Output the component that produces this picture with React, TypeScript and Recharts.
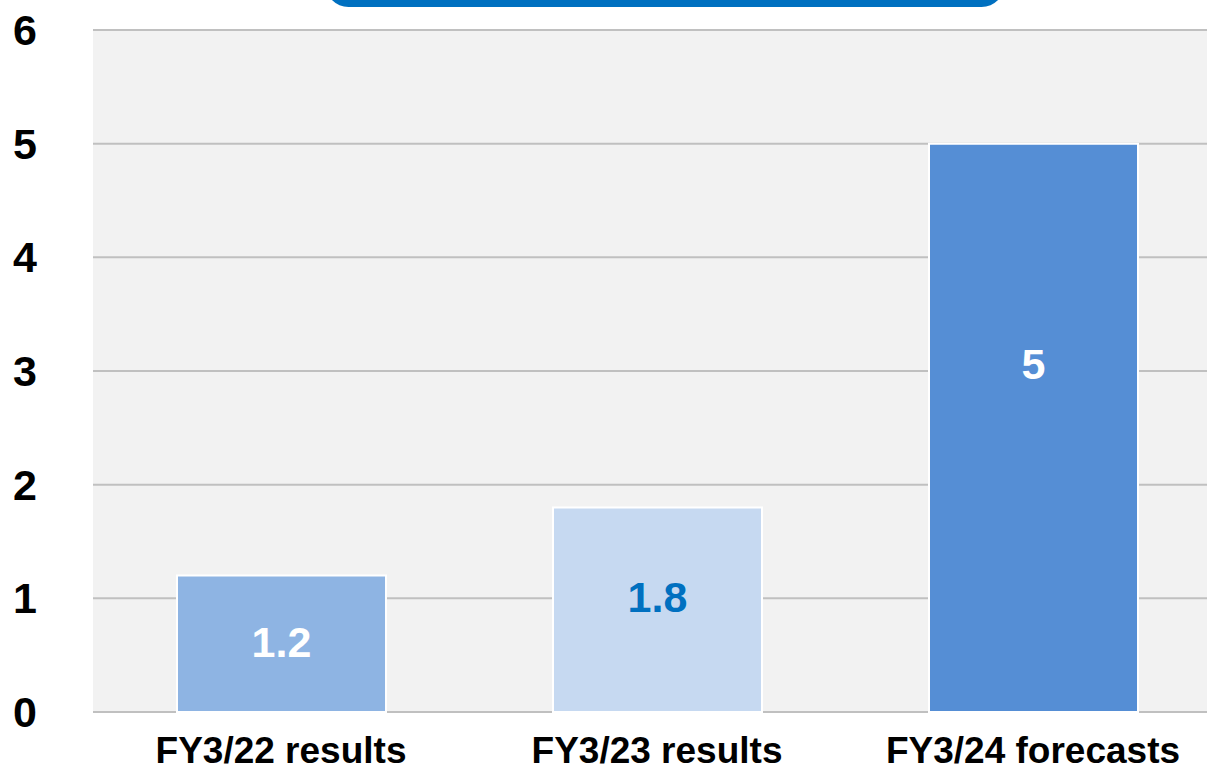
import { Bar, BarChart, CartesianGrid, Cell, LabelList, XAxis, YAxis } from "recharts";

const categories = ["FY3/22 results", "FY3/23 results", "FY3/24 forecasts"];
const values = [1.2, 1.8, 5];
// where each value label sits, in axis units
const labelAt = [0.62, 1.01, 3.06];
const barColors = ["#8EB4E3", "#C6D9F1", "#558ED5"];
const labelColors = ["#FFFFFF", "#0070C0", "#FFFFFF"];
const yTicks = [0, 1, 2, 3, 4, 5, 6];

const data = categories.map((name, i) => ({ name, value: values[i], labelAt: labelAt[i] }));

const FONT = "'Liberation Sans', Arial, sans-serif";

function YTick(props: any) {
    const { y, payload } = props;
    return (
        <text x={25} y={y} textAnchor="middle" dominantBaseline="central"
            fontFamily={FONT} fontSize={43} fontWeight={700} fill="#000">
            {payload.value}
        </text>
    );
}

function XTick(props: any) {
    const { x, y, payload } = props;
    return (
        <text x={x} y={y + 43} textAnchor="middle"
            fontFamily={FONT} fontSize={37} fontWeight={700} fill="#000">
            {payload.value}
        </text>
    );
}

function BarLabel(props: any) {
    const { x, y, width, height, value, index } = props;
    const pos = labelAt[index];
    const cy = y + height * (1 - pos / value);
    return (
        <text x={x + width / 2} y={cy} textAnchor="middle" dominantBaseline="central"
            fontFamily={FONT} fontSize={43} fontWeight={700} fill={labelColors[index]}>
            {value}
        </text>
    );
}

export default function App() {
    return (
        <div style={{ position: "absolute", left: 0, top: 0, width: 1207, height: 770, overflow: "hidden", background: "#fff" }}>
            <div style={{
                position: "absolute", left: 325, top: -40, width: 680, height: 47,
                background: "#0070C0", borderRadius: 26
            }} />
            <BarChart width={1221} height={770} data={data}
                margin={{ top: 30, right: 0, left: 0, bottom: 0 }}>
                <CartesianGrid vertical={false} fill="#F2F2F2" stroke="#C0C0C0" strokeWidth={2} />
                <XAxis dataKey="name" axisLine={false} tickLine={false} height={58} tick={<XTick />} interval={0} />
                <YAxis domain={[0, 6]} ticks={yTicks} axisLine={false} tickLine={false} width={93} tick={<YTick />} />
                <Bar dataKey="value" barSize={209} stroke="#FFFFFF" strokeWidth={2} isAnimationActive={false}>
                    {data.map((d, i) => (
                        <Cell key={d.name} fill={barColors[i]} />
                    ))}
                    <LabelList dataKey="value" content={<BarLabel />} />
                </Bar>
            </BarChart>
        </div>
    );
}
